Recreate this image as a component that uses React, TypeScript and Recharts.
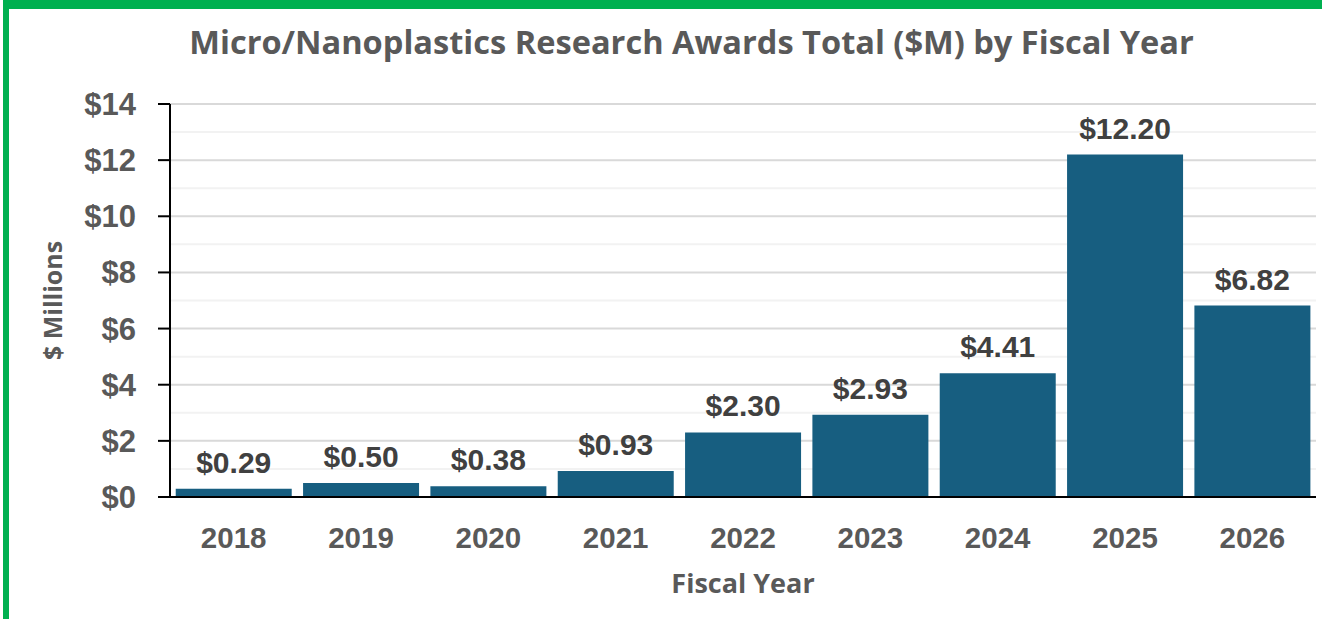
import React from 'react';
import { BarChart, Bar, XAxis, YAxis, CartesianGrid, LabelList, Label } from 'recharts';

const years = ['2018', '2019', '2020', '2021', '2022', '2023', '2024', '2025', '2026'];
const awards = [0.29, 0.5, 0.38, 0.93, 2.3, 2.93, 4.41, 12.2, 6.82];
const yTicks = [0, 2, 4, 6, 8, 10, 12, 14];
const minorLines = [1, 3, 5, 7, 9, 11, 13];

const data = years.map((y, i) => ({ year: y, value: awards[i] }));

const W = 1322;
const H = 619;
const labelFont = '"Liberation Sans", Arial, sans-serif';
const titleFont = '"Open Sans", "Liberation Sans", sans-serif';

export default function App() {
  return (
    <div style={{ position: 'absolute', left: 0, top: 0, width: W, height: H, background: '#fff', overflow: 'hidden' }}>
      {/* green frame from the screenshot */}
      <div style={{ position: 'absolute', left: 3, top: 0, width: W, height: 9, background: '#00B050' }} />
      <div style={{ position: 'absolute', left: 3, top: 0, width: 6, height: H, background: '#00B050' }} />
      <div
        style={{
          position: 'absolute',
          left: 0,
          width: 1383,
          top: 19,
          textAlign: 'center',
          fontFamily: titleFont,
          fontWeight: 700,
          fontSize: 32.6,
          color: '#595959',
          lineHeight: '46px',
        }}
      >
        Micro/Nanoplastics Research Awards Total ($M) by Fiscal Year
      </div>
      <BarChart
        width={W}
        height={H}
        data={data}
        margin={{ top: 104, right: 6, left: 0, bottom: 0 }}
        barCategoryGap="4.5%"
        style={{ position: 'absolute', left: 0, top: 0 }}
      >
        <CartesianGrid horizontalValues={minorLines} vertical={false} stroke="#f2f2f2" strokeWidth={2} />
        <CartesianGrid horizontalValues={yTicks} vertical={false} stroke="#d9d9d9" strokeWidth={2} />
        <XAxis
          dataKey="year"
          height={122}
          tickLine={false}
          tickSize={0}
          tickMargin={30}
          axisLine={{ stroke: '#000', strokeWidth: 2 }}
          tick={{ fill: '#595959', fontSize: 29.5, fontWeight: 700, fontFamily: labelFont }}
        >
          <Label
            value="Fiscal Year"
            position="insideBottom"
            offset={26}
            style={{ fill: '#595959', fontSize: 27, fontWeight: 700, fontFamily: titleFont }}
          />
        </XAxis>
        <YAxis
          width={170}
          domain={[0, 14]}
          ticks={yTicks}
          interval={0}
          tickSize={12}
          tickMargin={22}
          tickLine={{ stroke: '#000', strokeWidth: 2 }}
          axisLine={{ stroke: '#000', strokeWidth: 2 }}
          tickFormatter={(v: number) => `$${v}`}
          tick={{ fill: '#595959', fontSize: 31, fontWeight: 700, fontFamily: labelFont }}
        >
          <Label
            value="$ Millions"
            angle={-90}
            position="insideLeft"
            offset={53}
            style={{ textAnchor: 'middle', fill: '#595959', fontSize: 25, fontWeight: 700, fontFamily: titleFont }}
          />
        </YAxis>
        <Bar dataKey="value" fill="#175E80" isAnimationActive={false}>
          <LabelList
            dataKey="value"
            position="top"
            offset={16}
            formatter={(v: number) => `$${v.toFixed(2)}`}
            style={{ fill: '#404040', fontSize: 30, fontWeight: 700, fontFamily: labelFont }}
          />
        </Bar>
      </BarChart>
    </div>
  );
}
